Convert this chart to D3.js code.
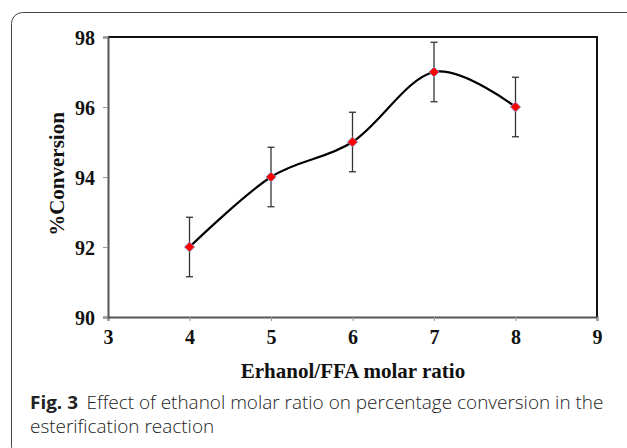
<!DOCTYPE html>
<html><head><meta charset="utf-8">
<script src="https://cdn.jsdelivr.net/npm/d3@7"></script>
<style>body{margin:0;background:#fff}svg{display:block}</style>
</head><body>
<svg id="c" width="627" height="448"></svg>
<script>
const ratios = [4, 5, 6, 7, 8];
const conversion = [92, 94, 95, 97, 96];
const errors = [0.85, 0.85, 0.85, 0.85, 0.85];
const xTicks = [3, 4, 5, 6, 7, 8, 9];
const yTicks = [90, 92, 94, 96, 98];
const xTitle = "Erhanol/FFA molar ratio";
const yTitle = "%Conversion";
const captionBold = "Fig. 3";
const captionLine1 = "Effect of ethanol molar ratio on percentage conversion in the";
const captionLine2 = "esterification reaction";

const svg = d3.select("#c");
// outer frame
svg.append("rect").attr("x", 11.5).attr("y", 12.5).attr("width", 650).attr("height", 445)
  .attr("rx", 11).attr("fill", "none").attr("stroke", "#444").attr("stroke-width", 1);

const L = 108, R = 597, T = 37, B = 317;
const x = d3.scaleLinear().domain([3, 9]).range([L, R]);
const y = d3.scaleLinear().domain([90, 98]).range([B, T]);

// top and right frame lines
svg.append("path").attr("d", `M${L},${T}H${R}V${B}`).attr("fill", "none")
  .attr("stroke", "#111").attr("stroke-width", 2);

const serif = "'Liberation Serif','Times New Roman',serif";
const xAxis = svg.append("g").attr("transform", `translate(0,${B})`)
  .call(d3.axisBottom(x).tickValues(xTicks).tickSize(4).tickPadding(9).tickFormat(d3.format("d")));
const yAxis = svg.append("g").attr("transform", `translate(${L},0)`)
  .call(d3.axisLeft(y).tickValues(yTicks).tickSize(5).tickPadding(8).tickFormat(d3.format("d")));
[xAxis, yAxis].forEach(g => {
  g.select(".domain").attr("stroke", "#555").attr("stroke-width", 2);
  g.selectAll(".tick line").attr("stroke", "#999").attr("stroke-width", 1);
  g.selectAll("text").attr("font-family", serif).attr("font-weight", "bold")
    .attr("font-size", 20).attr("fill", "#111");
});
xAxis.selectAll("text").attr("dy", null).attr("y", 20).attr("dominant-baseline", "central");
yAxis.selectAll("text").attr("dy", null).attr("dominant-baseline", "central");

// titles
svg.append("text").attr("x", 353).attr("y", 371).attr("text-anchor", "middle")
  .attr("dominant-baseline", "central").attr("font-family", serif).attr("font-weight", "bold")
  .attr("font-size", 21).attr("fill", "#111").text(xTitle);
svg.append("text").attr("transform", "translate(57,174) rotate(-90)").attr("text-anchor", "middle")
  .attr("dominant-baseline", "central").attr("font-family", serif).attr("font-weight", "bold")
  .attr("font-size", 21).attr("fill", "#111").text(yTitle);

const data = ratios.map((r, i) => ({r, v: conversion[i], e: errors[i]}));

// smooth line
const line = d3.line().x(d => x(d.r)).y(d => y(d.v)).curve(d3.curveCardinal.tension(0));
svg.append("path").datum(data).attr("d", line).attr("fill", "none")
  .attr("stroke", "#000").attr("stroke-width", 2.2);

// error bars
const eb = svg.append("g").attr("stroke", "#333").attr("stroke-width", 1.3);
data.forEach(d => {
  eb.append("line").attr("x1", x(d.r)).attr("x2", x(d.r)).attr("y1", y(d.v + d.e)).attr("y2", y(d.v - d.e));
  [d.v + d.e, d.v - d.e].forEach(v => eb.append("line")
    .attr("x1", x(d.r) - 3.5).attr("x2", x(d.r) + 3.5).attr("y1", y(v)).attr("y2", y(v)));
});

// markers
svg.append("g").selectAll("path").data(data).join("path")
  .attr("transform", d => `translate(${x(d.r)},${y(d.v)}) rotate(45)`)
  .attr("d", d3.symbol(d3.symbolSquare, 52)())
  .attr("fill", "#ff0000").attr("stroke", "#7f9fd8").attr("stroke-width", 0.8);

// caption
const sans = "'Open Sans','Noto Sans',sans-serif";
const cap = svg.append("g");
const t1 = cap.append("text").attr("x", 30).attr("y", 409).attr("font-family", sans)
  .attr("font-size", 18).attr("font-weight", 300).attr("fill", "#222");
t1.append("tspan").attr("font-weight", "bold").text(captionBold);
t1.append("tspan").attr("dx", 8).text(captionLine1);
const w1 = t1.node().getComputedTextLength() + 8;
const target = 574;
const sc = target / w1;
const t2 = cap.append("text").attr("x", 30).attr("y", 433).attr("font-family", sans)
  .attr("font-size", 18).attr("font-weight", 300).attr("fill", "#222").text(captionLine2);
cap.attr("transform", `translate(30,0) scale(${sc},1) translate(-30,0)`);
</script>
</body></html>
